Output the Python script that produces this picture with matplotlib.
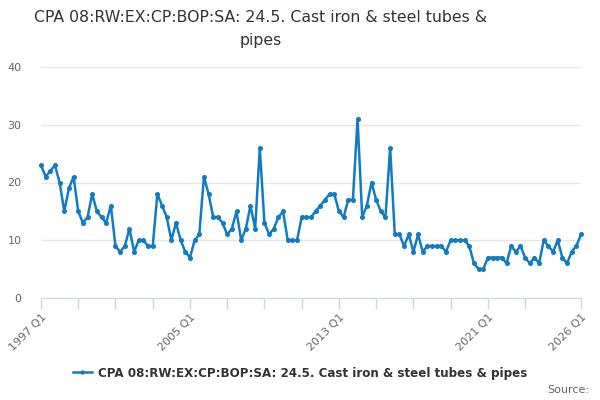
import numpy as np
import matplotlib
matplotlib.use("Agg")
import matplotlib.pyplot as plt

title = "CPA 08:RW:EX:CP:BOP:SA: 24.5. Cast iron & steel tubes & pipes"

# quarterly values, 1997 Q1 .. 2026 Q1
values = [
    23, 21, 22, 23,  20, 15, 19, 21,  15, 13, 14, 18,  15, 14, 13, 16,   # 1997-2000
    9, 8, 9, 12,  8, 10, 10, 9,  9, 18, 16, 14,  10, 13, 10, 8,          # 2001-2004
    7, 10, 11, 21,  18, 14, 14, 13,  11, 12, 15, 10,  12, 16, 12, 26,    # 2005-2008
    13, 11, 12, 14,  15, 10, 10, 10,  14, 14, 14, 15,  16, 17, 18, 18,   # 2009-2012
    15, 14, 17, 17,  31, 14, 16, 20,  17, 15, 14, 26,  11, 11, 9, 11,    # 2013-2016
    8, 11, 8, 9,  9, 9, 9, 8,  10, 10, 10, 10,  9, 6, 5, 5,              # 2017-2020
    7, 7, 7, 7,  6, 9, 8, 9,  7, 6, 7, 6,  10, 9, 8, 10,                 # 2021-2024
    7, 6, 8, 9,  11,                                                     # 2025-2026 Q1
]
quarters = ["%d Q%d" % (1997 + i // 4, i % 4 + 1) for i in range(len(values))]
label_quarters = ["1997 Q1", "2005 Q1", "2013 Q1", "2021 Q1", "2026 Q1"]
y_ticks = [0, 10, 20, 30, 40]

blue = "#137cc1"
grey_text = "#666666"

fig = plt.figure(figsize=(6, 4), dpi=100)
ax = fig.add_axes([41 / 600, 1 - 298 / 400, 540 / 600, 231 / 400])

x = np.arange(len(values))
line, = ax.plot(x, values, color=blue, lw=1.8, marker="o", ms=2.6, clip_on=False, zorder=3)

ax.set_xlim(0, len(values) - 1)
ax.set_ylim(0, 40)
ax.set_yticks(y_ticks)
ax.set_yticklabels([str(v) for v in y_ticks], color=grey_text, fontsize=8)
ax.yaxis.grid(True, color="#e6e6e6", lw=1)
ax.set_axisbelow(True)
ax.tick_params(axis="y", length=0, pad=14)

tick_pos = list(range(0, 112, 8)) + [len(values) - 1]
ax.set_xticks(tick_pos)
ax.set_xticklabels([quarters[i] if quarters[i] in label_quarters else "" for i in tick_pos],
                   rotation=45, ha="right", rotation_mode="anchor",
                   color=grey_text, fontsize=8)
ax.tick_params(axis="x", length=8, color="#ccd6eb", width=1, pad=2)

for s in ["top", "right", "left"]:
    ax.spines[s].set_visible(False)
ax.spines["bottom"].set_color("#ccd6eb")

fig.text(261 / 600, 1 - 18 / 400, "CPA 08:RW:EX:CP:BOP:SA: 24.5. Cast iron & steel tubes &",
         ha="center", va="center", fontsize=11.3, color="#333333")
fig.text(261 / 600, 1 - 40 / 400, "pipes", ha="center", va="center", fontsize=11.3, color="#333333")

leg = fig.legend([line], [title], loc="center", bbox_to_anchor=(300 / 600, 1 - 373 / 400),
                 frameon=False, prop={"weight": "bold", "size": 8.6}, handlelength=1.6,
                 handletextpad=0.5, markerscale=0.8)
for t in leg.get_texts():
    t.set_color("#333333")

fig.text(589 / 600, 1 - 390 / 400, "Source:", ha="right", va="center", fontsize=8, color=grey_text)

fig.savefig("out.png", dpi=100)
